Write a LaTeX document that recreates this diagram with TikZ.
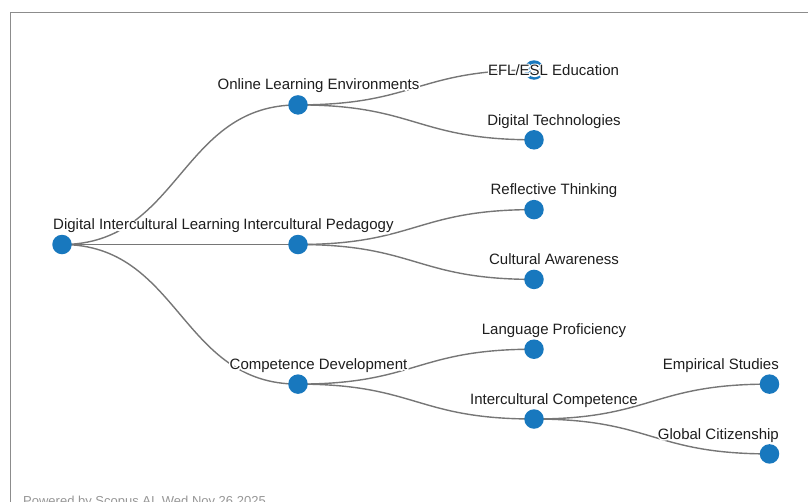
\documentclass[tikz,border=0pt]{standalone}
\usepackage{fontspec}
\setmainfont{Liberation Sans}
\usetikzlibrary{calc,backgrounds}
\definecolor{nodeblue}{RGB}{24,120,190}
\definecolor{linkgray}{RGB}{118,118,118}
\definecolor{framegray}{RGB}{140,140,140}
\definecolor{footgray}{RGB}{150,150,150}
\definecolor{txt}{RGB}{30,30,30}
\tikzset{
  dot/.style={circle,fill=nodeblue,draw=none,minimum size=19.5pt,inner sep=0pt},
  lbl/.style={font=\fontsize{15}{18}\selectfont,text=txt,inner sep=0pt},
  link/.style={draw=linkgray,line width=1.4pt},
}
\newcommand{\halolabel}[4]{%
  \node[lbl,text=white,anchor=#3] (#1-h) at (#2) {\special{pdf:literal direct 1 Tr 3 w 1 j 1 J}#4\special{pdf:literal direct 0 Tr}};
  \node[lbl,anchor=#3] (#1) at (#2) {#4};
}
\newcommand{\treelink}[2]{%
  \draw[link] (#1.center) .. controls ($(#1.center)+(118,0)$) and ($(#2.center)-(118,0)$) .. (#2.center);
}
\begin{document}
\begin{tikzpicture}[x=1pt,y=-1pt]
\useasboundingbox (0,0) rectangle (808,501);
\draw[framegray,line width=1.2pt] (10.5,520) -- (10.5,12.5) -- (830,12.5);
% circles
\node[dot] (root) at (62,244.5) {};
\node[dot] (ole) at (298,104.9) {};
\node[dot] (ip) at (298,244.5) {};
\node[dot] (cd) at (298,384.1) {};
\node[dot] (efl) at (534,70) {};
\node[dot] (dt) at (534,139.8) {};
\node[dot] (rt) at (534,209.6) {};
\node[dot] (ca) at (534,279.4) {};
\node[dot] (lp) at (534,349.2) {};
\node[dot] (ic) at (534,419) {};
\node[dot] (es) at (769.5,384.1) {};
\node[dot] (gc) at (769.5,453.9) {};
% links
\begin{pgfonlayer}{background}
\treelink{root}{ole}
\treelink{root}{ip}
\treelink{root}{cd}
\treelink{ole}{efl}
\treelink{ole}{dt}
\treelink{ip}{rt}
\treelink{ip}{ca}
\treelink{cd}{lp}
\treelink{cd}{ic}
\treelink{ic}{es}
\treelink{ic}{gc}
\end{pgfonlayer}
% labels
\halolabel{l-root}{53,229.8}{base west}{Digital Intercultural Learning}
\halolabel{l-ole}{318.5,89.5}{base}{Online Learning Environments}
\halolabel{l-ip}{318.5,229.8}{base}{Intercultural Pedagogy}
\halolabel{l-cd}{318.5,369.5}{base}{Competence Development}
\halolabel{l-efl}{553.5,75.5}{base}{EFL/ESL Education}
\halolabel{l-dt}{554,125}{base}{Digital Technologies}
\halolabel{l-rt}{554,194.8}{base}{Reflective Thinking}
\halolabel{l-ca}{554,264.6}{base}{Cultural Awareness}
\halolabel{l-lp}{554,334.4}{base}{Language Proficiency}
\halolabel{l-ic}{554,404.2}{base}{Intercultural Competence}
\halolabel{l-es}{779,369.3}{base east}{Empirical Studies}
\halolabel{l-gc}{779,439.1}{base east}{Global Citizenship}
\node[font=\fontsize{13}{15}\selectfont,text=footgray,anchor=base west,inner sep=0pt] (footer) at (23,505.5) {Powered by Scopus AI, Wed Nov 26 2025};
\end{tikzpicture}
\end{document}
